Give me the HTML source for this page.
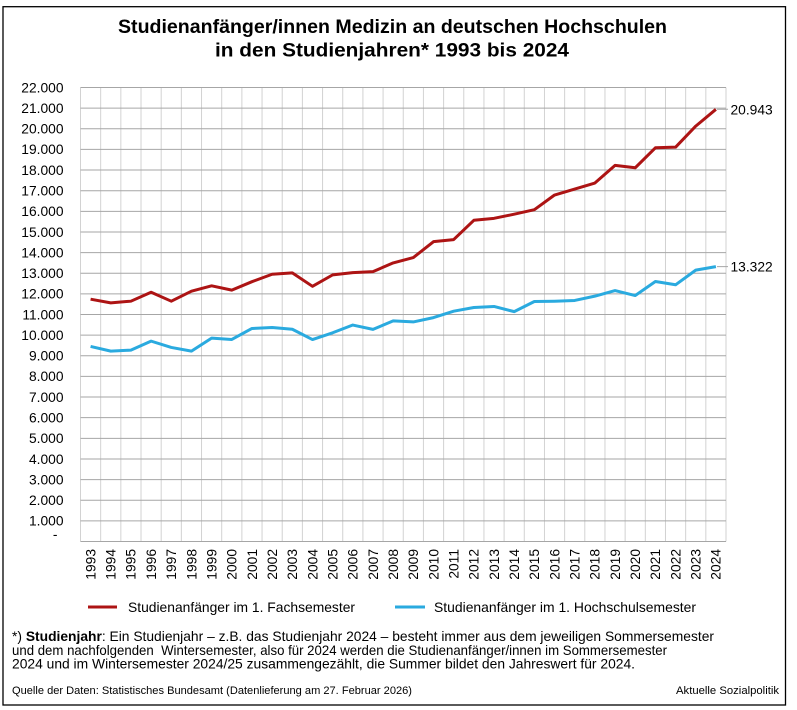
<!DOCTYPE html>
<html>
<head>
<meta charset="utf-8">
<style>
html,body{margin:0;padding:0;background:#fff;}
svg{display:block;}
text{font-family:"Liberation Sans",Arial,sans-serif;fill:#000;}
</style>
</head>
<body>
<svg width="797" height="710" viewBox="0 0 797 710" xmlns="http://www.w3.org/2000/svg">
<rect x="0" y="0" width="797" height="710" fill="#fff"/>
<rect x="3" y="6.7" width="782.5" height="698.3" fill="none" stroke="#000" stroke-width="1.3"/>

<!-- Title -->
<text x="118" y="33" font-size="19.5" font-weight="bold" textLength="549" lengthAdjust="spacingAndGlyphs">Studienanfänger/innen Medizin an deutschen Hochschulen</text>
<text x="215" y="56.5" font-size="19.5" font-weight="bold" textLength="354" lengthAdjust="spacingAndGlyphs">in den Studienjahren* 1993 bis 2024</text>

<!-- vertical gridlines -->
<path stroke="#d2d2d2" stroke-width="1" fill="none" d="
M80.5 87.5V541.5 M100.67 87.5V541.5 M120.84 87.5V541.5 M141.02 87.5V541.5 M161.19 87.5V541.5 M181.36 87.5V541.5
M201.53 87.5V541.5 M221.70 87.5V541.5 M241.88 87.5V541.5 M262.05 87.5V541.5 M282.22 87.5V541.5 M302.39 87.5V541.5
M322.56 87.5V541.5 M342.74 87.5V541.5 M362.91 87.5V541.5 M383.08 87.5V541.5 M403.25 87.5V541.5 M423.42 87.5V541.5
M443.60 87.5V541.5 M463.77 87.5V541.5 M483.94 87.5V541.5 M504.11 87.5V541.5 M524.28 87.5V541.5 M544.46 87.5V541.5
M564.63 87.5V541.5 M584.80 87.5V541.5 M604.97 87.5V541.5 M625.14 87.5V541.5 M645.32 87.5V541.5 M665.49 87.5V541.5
M685.66 87.5V541.5 M705.83 87.5V541.5 M726 87.5V541.5"/>

<!-- horizontal gridlines -->
<path stroke="#a6a6a6" stroke-width="1" fill="none" d="
M80.5 541.5H726 M80.5 520.86H726 M80.5 500.23H726 M80.5 479.59H726 M80.5 458.96H726 M80.5 438.32H726
M80.5 417.68H726 M80.5 397.05H726 M80.5 376.41H726 M80.5 355.78H726 M80.5 335.14H726 M80.5 314.50H726
M80.5 293.87H726 M80.5 273.23H726 M80.5 252.60H726 M80.5 231.96H726 M80.5 211.32H726 M80.5 190.69H726
M80.5 170.05H726 M80.5 149.42H726 M80.5 128.78H726 M80.5 108.14H726 M80.5 87.5H726"/>

<!-- y-axis labels -->
<g font-size="13.8" text-anchor="end">
<text x="63.5" y="92.3">22.000</text>
<text x="63.5" y="112.9">21.000</text>
<text x="63.5" y="133.6">20.000</text>
<text x="63.5" y="154.2">19.000</text>
<text x="63.5" y="174.9">18.000</text>
<text x="63.5" y="195.5">17.000</text>
<text x="63.5" y="216.1">16.000</text>
<text x="63.5" y="236.8">15.000</text>
<text x="63.5" y="257.4">14.000</text>
<text x="63.5" y="278.0">13.000</text>
<text x="63.5" y="298.7">12.000</text>
<text x="63.5" y="319.3">11.000</text>
<text x="63.5" y="339.9">10.000</text>
<text x="63.5" y="360.6">9.000</text>
<text x="63.5" y="381.2">8.000</text>
<text x="63.5" y="401.9">7.000</text>
<text x="63.5" y="422.5">6.000</text>
<text x="63.5" y="443.1">5.000</text>
<text x="63.5" y="463.8">4.000</text>
<text x="63.5" y="484.4">3.000</text>
<text x="63.5" y="505.0">2.000</text>
<text x="63.5" y="525.7">1.000</text>
<text x="57.5" y="539">-</text>
</g>

<!-- x-axis labels -->
<g font-size="13.8" text-anchor="end">
<text transform="translate(95.4,549) rotate(-90)">1993</text>
<text transform="translate(115.6,549) rotate(-90)">1994</text>
<text transform="translate(135.7,549) rotate(-90)">1995</text>
<text transform="translate(155.9,549) rotate(-90)">1996</text>
<text transform="translate(176.1,549) rotate(-90)">1997</text>
<text transform="translate(196.3,549) rotate(-90)">1998</text>
<text transform="translate(216.4,549) rotate(-90)">1999</text>
<text transform="translate(236.6,549) rotate(-90)">2000</text>
<text transform="translate(256.8,549) rotate(-90)">2001</text>
<text transform="translate(276.9,549) rotate(-90)">2002</text>
<text transform="translate(297.1,549) rotate(-90)">2003</text>
<text transform="translate(317.3,549) rotate(-90)">2004</text>
<text transform="translate(337.5,549) rotate(-90)">2005</text>
<text transform="translate(357.6,549) rotate(-90)">2006</text>
<text transform="translate(377.8,549) rotate(-90)">2007</text>
<text transform="translate(398.0,549) rotate(-90)">2008</text>
<text transform="translate(418.1,549) rotate(-90)">2009</text>
<text transform="translate(438.3,549) rotate(-90)">2010</text>
<text transform="translate(458.5,549) rotate(-90)">2011</text>
<text transform="translate(478.7,549) rotate(-90)">2012</text>
<text transform="translate(498.8,549) rotate(-90)">2013</text>
<text transform="translate(519.0,549) rotate(-90)">2014</text>
<text transform="translate(539.2,549) rotate(-90)">2015</text>
<text transform="translate(559.3,549) rotate(-90)">2016</text>
<text transform="translate(579.5,549) rotate(-90)">2017</text>
<text transform="translate(599.7,549) rotate(-90)">2018</text>
<text transform="translate(619.9,549) rotate(-90)">2019</text>
<text transform="translate(640.0,549) rotate(-90)">2020</text>
<text transform="translate(660.2,549) rotate(-90)">2021</text>
<text transform="translate(680.4,549) rotate(-90)">2022</text>
<text transform="translate(700.5,549) rotate(-90)">2023</text>
<text transform="translate(720.7,549) rotate(-90)">2024</text>
</g>

<!-- series -->
<polyline fill="none" stroke="#ad1414" stroke-width="3" stroke-linejoin="round" points="
90.59,299.19 110.76,302.84 130.93,301.19 151.10,292.22 171.28,301.19 191.45,291.18 211.62,285.82 231.79,290.15
251.96,281.69 272.13,274.26 292.31,272.82 312.48,286.31 332.65,274.88 352.82,272.61 372.99,271.58 393.17,262.91
413.34,257.55 433.51,241.66 453.68,239.60 473.85,220.30 494.03,218.34 514.20,214.21 534.37,209.67 554.54,195.02
574.71,189.04 594.89,183.05 615.06,165.41 635.23,167.78 655.40,147.76 675.57,147.15 695.75,126.10 715.92,109.32"/>
<polyline fill="none" stroke="#2aaadf" stroke-width="3" stroke-linejoin="round" points="
90.59,346.45 110.76,351.11 130.93,350.12 151.10,341.12 171.28,347.46 191.45,351.11 211.62,338.13 231.79,339.47
251.96,328.47 272.13,327.50 292.31,329.26 312.48,339.53 332.65,332.77 352.82,325.03 372.99,329.36 393.17,320.90
413.34,321.93 433.51,317.60 453.68,311.20 473.85,307.49 494.03,306.46 514.20,311.61 534.37,301.50 554.54,301.19
574.71,300.47 594.89,296.14 615.06,290.57 635.23,295.52 655.40,281.49 675.57,284.79 695.75,270.14 715.92,266.59"/>

<!-- leader lines + value labels -->
<path stroke="#a6a6a6" stroke-width="1" d="M717 109.3H728 M717 266.6H728"/>
<text x="730.5" y="114.3" font-size="13.8">20.943</text>
<text x="730.5" y="271.6" font-size="13.8">13.322</text>

<!-- legend -->
<line x1="88" y1="607" x2="117" y2="607" stroke="#ad1414" stroke-width="3"/>
<text x="128" y="612" font-size="13.8" textLength="227" lengthAdjust="spacingAndGlyphs">Studienanfänger im 1. Fachsemester</text>
<line x1="395" y1="607" x2="425" y2="607" stroke="#2aaadf" stroke-width="3"/>
<text x="434" y="612" font-size="13.8" textLength="262" lengthAdjust="spacingAndGlyphs">Studienanfänger im 1. Hochschulsemester</text>

<!-- footnote -->
<text x="12" y="641" font-size="13.8" textLength="702" lengthAdjust="spacingAndGlyphs">*) <tspan font-weight="bold">Studienjahr</tspan>: Ein Studienjahr – z.B. das Studienjahr 2024 – besteht immer aus dem jeweiligen Sommersemester</text>
<text x="12" y="655" font-size="13.8" textLength="655" lengthAdjust="spacingAndGlyphs" xml:space="preserve">und dem nachfolgenden  Wintersemester, also für 2024 werden die Studienanfänger/innen im Sommersemester</text>
<text x="12" y="668.5" font-size="13.8" textLength="623" lengthAdjust="spacingAndGlyphs">2024 und im Wintersemester 2024/25 zusammengezählt, die Summer bildet den Jahreswert für 2024.</text>

<text x="12" y="694" font-size="11.3" textLength="400" lengthAdjust="spacingAndGlyphs">Quelle der Daten: Statistisches Bundesamt (Datenlieferung am 27. Februar 2026)</text>
<text x="779" y="694" font-size="11.3" text-anchor="end">Aktuelle Sozialpolitik</text>
</svg>
</body>
</html>
